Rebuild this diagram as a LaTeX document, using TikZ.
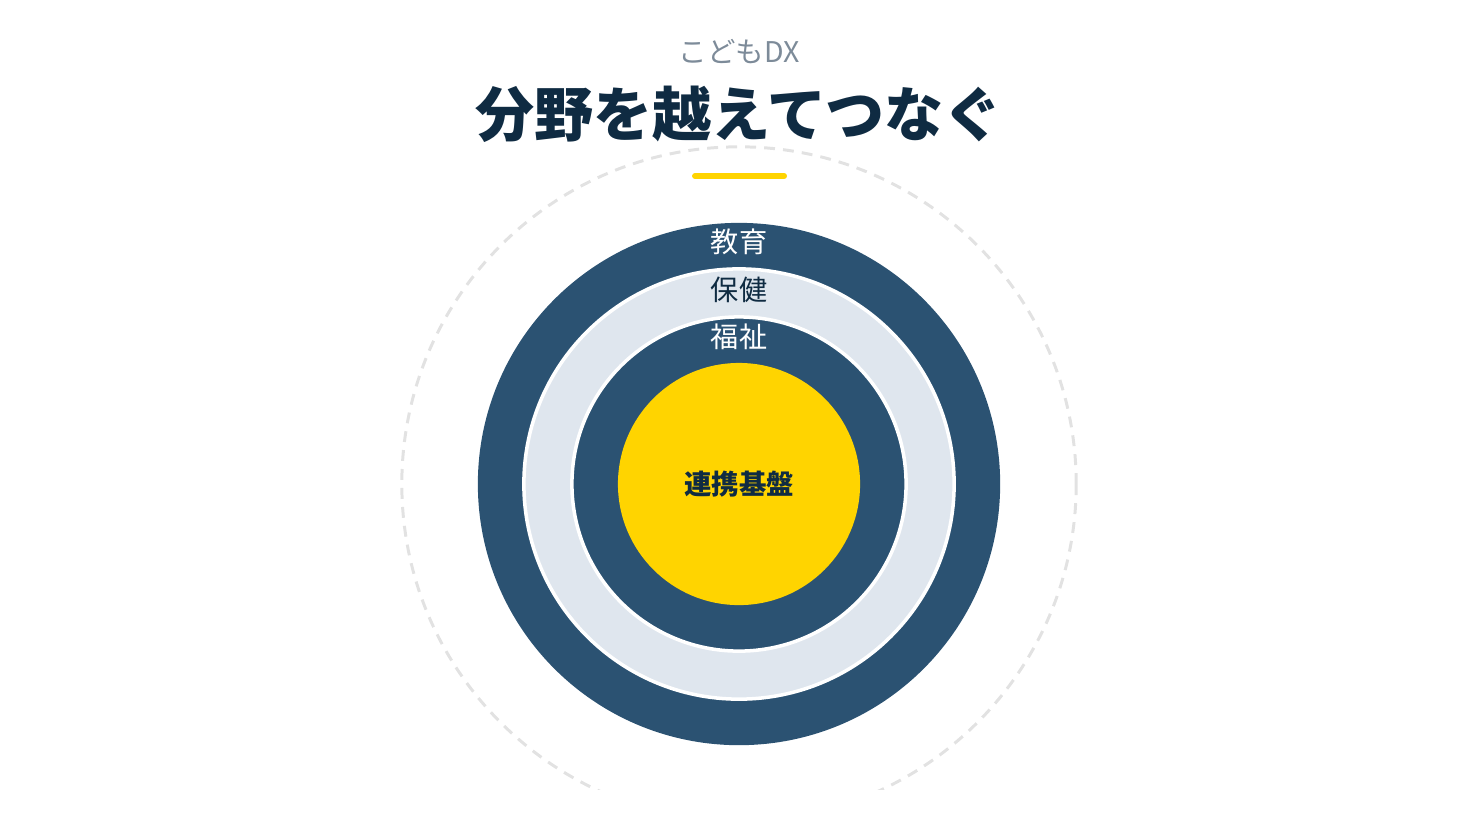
\documentclass[tikz,border=0pt]{standalone}
\usepackage{fontspec}
\usepackage{xcolor}
\usepackage{tikz}
\usetikzlibrary{positioning}
\newfontfamily\cjk{Noto Sans CJK JP}
\definecolor{ringdark}{HTML}{2B5272}
\definecolor{ringlight}{HTML}{DFE6EE}
\definecolor{coreyellow}{HTML}{FFD400}
\definecolor{titleink}{HTML}{0F2B42}
\definecolor{subink}{HTML}{7D8B99}
\definecolor{dashgrey}{HTML}{E2E2E2}

\begin{document}
\begin{tikzpicture}[x=0.01cm, y=-0.01cm,
    ring/.style={circle, inner sep=0pt, outer sep=0pt},
    ringlabel/.style={font=\cjk\fontsize{8pt}{9pt}\selectfont, inner sep=0pt}]
      \useasboundingbox (0,0) rectangle (1480,832);

      % Outer dashed circle
      \begin{scope}
        \clip (0,0) rectangle (1480,789);
        \node[ring, draw=dashgrey, line width=0.85pt, dash pattern=on 3.1pt off 2.3pt,
              minimum size=6.74cm] (outer) at (739,484) {};
      \end{scope}

      % Define rings
      \node[ring, fill=ringdark, minimum size=5.22cm]                     (edu)  at (739,484) {};
      \node[ring, fill=ringlight, draw=white, line width=1pt, minimum size=4.30cm] (health) at (edu.center) {};
      \node[ring, fill=ringdark, draw=white, line width=1pt, minimum size=3.34cm]  (welfare) at (edu.center) {};
      \node[ring, fill=coreyellow, minimum size=2.42cm]                   (core) at (edu.center) {};

      % Ring labels
      \node[ringlabel, text=white]     (edu_l)     at (739,242) {教育};
      \node[ringlabel, text=titleink]  (health_l)  at (739,290) {保健};
      \node[ringlabel, text=white]     (welfare_l) at (739,337) {福祉};
      \node[ringlabel, text=titleink, font=\cjk\bfseries\fontsize{7.8pt}{9pt}\selectfont] (core_l) at (core.center) {連携基盤};

      % Title
      \node[inner sep=0pt, text=subink, font=\cjk\fontsize{8.1pt}{9pt}\selectfont] (sub) at (739,52) {こどもDX};
      \node[inner sep=0pt, text=titleink, font=\cjk\bfseries\fontsize{16.8pt}{18pt}\selectfont] (title) at (739,114) {分野を越えてつなぐ};
      \coordinate (bar_l) at (695,176);
      \coordinate[right=0.89cm of bar_l] (bar_r);
      \draw[coreyellow, line width=1.7pt, line cap=round] (bar_l) -- (bar_r);

\end{tikzpicture}
\end{document}
